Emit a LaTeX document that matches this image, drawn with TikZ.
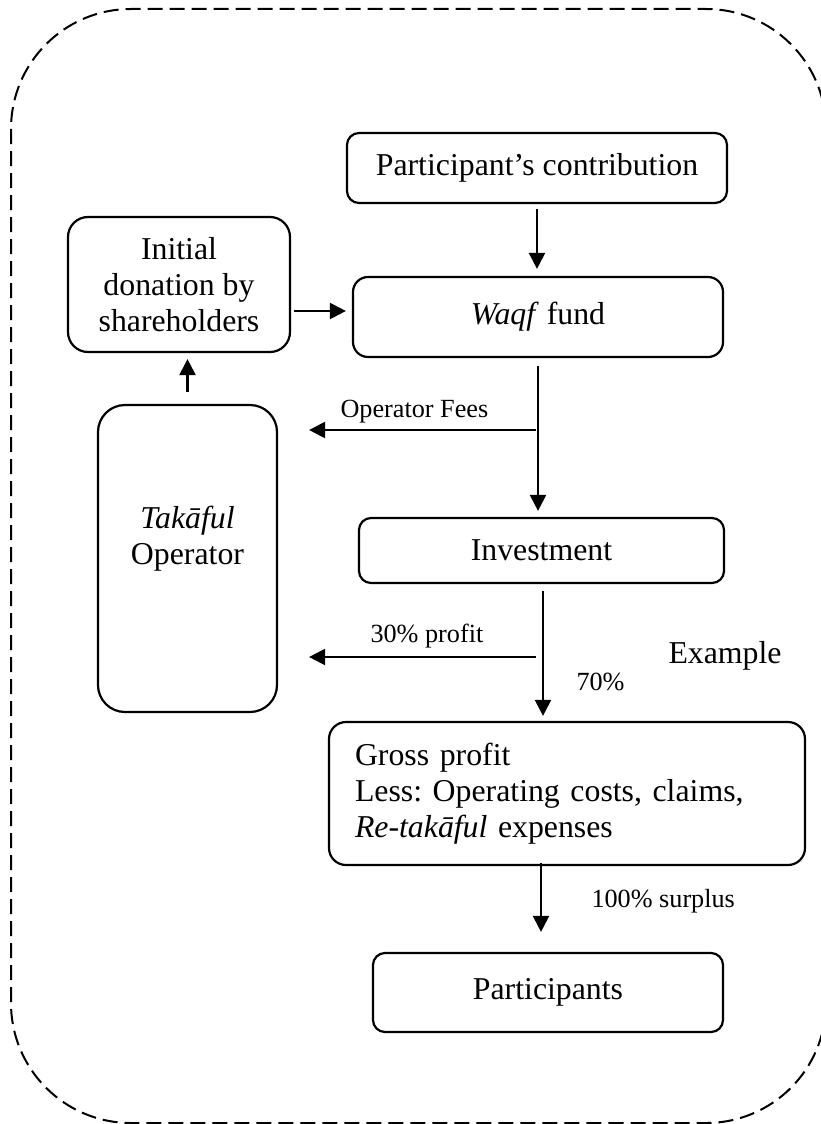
\documentclass[tikz,border=0pt]{standalone}
\usepackage{fontspec}
\setmainfont{Liberation Serif}
\usetikzlibrary{arrows.meta}
\frenchspacing
\begin{document}
\begin{tikzpicture}[x=1pt,y=-1pt,
  main/.style={font=\fontsize{31.8}{36}\selectfont},
  small/.style={font=\fontsize{26.2}{30}\selectfont},
  box/.style={draw, line width=2.2pt, rounded corners=12pt, align=center,
              inner sep=0pt, main},
  arr/.style={line width=2.2pt, -{Triangle[length=16pt,width=16pt]}},
  frame/.style={line width=2pt, dash pattern=on 15pt off 7pt, rounded corners=120pt},
]
\useasboundingbox (0,0) rectangle (821,1124);

% dashed outer frame
\begin{scope}
  \clip (0,0) rectangle (821,1124);
  \draw[frame] (11,9) rectangle (826,1123);
\end{scope}

% boxes
\node[box, minimum width=380pt, minimum height=70pt] (pc) at (537,168)
  {Participant’s contribution};
\node[box, minimum width=370pt, minimum height=80pt, rounded corners=15pt] (waqf) at (538,317)
  {\textit{Waqf} fund};
\node[box, minimum width=222pt, minimum height=135pt, rounded corners=20pt] (init) at (179,284.5)
  {Initial\\donation by\\shareholders};
\node[box, minimum width=179pt, minimum height=307pt, rounded corners=27pt,
      label={[main, align=center, yshift=20pt]center:{\textit{Takāful}\\Operator}}] (tak) at (187.5,558.5) {};
\node[box, minimum width=365pt, minimum height=65pt] (inv) at (541.5,550.5)
  {Investment};
\node[box, rounded corners=17pt, align=left, text width=424pt, inner xsep=26pt,
      minimum height=143pt] (gross) at (567,793.5)
  {Gross profit\\Less: Operating costs, claims,\\\textit{Re-takāful} expenses};
\node[box, minimum width=350pt, minimum height=79pt] (part) at (548,992.5)
  {Participants};

% branch points on the vertical flow
\coordinate (fees) at (536,430);
\coordinate (split) at (536,657);

% connectors
\draw[arr] ([yshift=-5pt]pc.south) -- ([yshift=7pt]pc.south |- waqf.north);
\draw[arr] ([xshift=3pt,yshift=6pt]init.east |- waqf.west) -- ([xshift=-6pt,yshift=6pt]waqf.west);
\draw[arr] ([yshift=12pt]tak.north) -- ([yshift=-6pt]tak.north |- init.south);
\draw[arr] ([yshift=-8pt]waqf.south) -- ([yshift=6pt]waqf.south |- inv.north);
\draw[arr] (fees) -- ([xshift=31pt]tak.east |- fees);
\draw[arr] ([xshift=1.5pt,yshift=-7pt]inv.south) -- ([xshift=1.5pt,yshift=5pt]inv.south |- gross.north);
\draw[arr] (split) -- ([xshift=31pt]tak.east |- split);
\draw[arr] ([xshift=-7pt,yshift=3pt]part.north |- gross.south) -- ([xshift=-7pt,yshift=20pt]part.north);

% labels
\node[small, anchor=base west] (lfees) at (337,417) {Operator Fees};
\node[small, anchor=base west] (lprofit) at (367,642) {30\% profit};
\node[small, anchor=base west] (lseventy) at (573,690) {70\%};
\node[main, anchor=base west] (lexample) at (665,663) {Example};
\node[small, anchor=base west] (lsurplus) at (588,907) {100\% surplus};
\end{tikzpicture}
\end{document}
